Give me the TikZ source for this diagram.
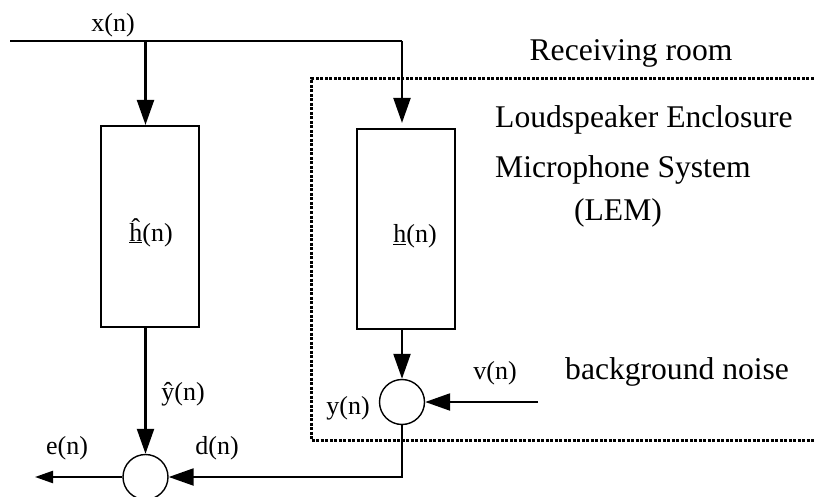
\documentclass[tikz,border=0pt]{standalone}
\usepackage{fontspec}
\setmainfont{Liberation Serif}
\usetikzlibrary{arrows.meta}
\begin{document}
\begin{tikzpicture}[x=1pt,y=-1pt,
  wire/.style={line width=2.3pt},
  arr/.style={wire,-{Triangle[length=25pt,width=17pt]}},
  sarr/.style={wire,-{Triangle[length=18pt,width=12pt]}},
  blk/.style={draw,line width=2.2pt,minimum width=98pt,minimum height=201pt,inner sep=0pt},
  sumc/.style={draw,circle,line width=1.4pt,minimum size=45pt,inner sep=0pt},
  lbl/.style={inner sep=0pt,font=\fontsize{26}{30}\selectfont},
  big/.style={inner sep=0pt,font=\fontsize{31.6}{36}\selectfont},
  room/.style={line width=3pt,dash pattern=on 3pt off 1.5pt}]
\clip (0,0) rectangle (814,497);
\fill[white] (0,0) rectangle (814,497);
\coordinate (xin) at (10,41);
\coordinate (split) at (145.5,41);
\coordinate (corner) at (402,41);
\node[blk] (hh) at (150,226.5) {};
\node[blk, minimum height=200pt] (h) at (406,229) {};
\node[sumc] (s2) at (402,402) {};
\node[sumc] (s1) at (145.5,477) {};
\coordinate (vin) at (538,402);
\coordinate (eout) at (35,477);
\coordinate (turn) at (402,477);
\coordinate (rtr) at (818,79);
\coordinate (rtl) at (311,79);
\coordinate (rbl) at (311,440);
\coordinate (rbr) at (818,440);
\draw[room] (rtr) -- (rtl) -- (rbl) -- (rbr);
\draw[wire] (xin) -- (corner);
\draw[arr] (split) -- (split |- hh.north);
\draw[arr, shorten >=5pt] (corner) -- (corner |- h.north);
\draw[arr] (s2 |- h.south) -- (s2.north);
\draw[arr] (vin) -- (s2.east);
\draw[arr] (s2.south) -- (turn) -- (s1.east);
\draw[arr] (s1 |- hh.south) -- (s1.north);
\draw[sarr] (s1.west) -- (eout);
\node[lbl] (lx) at (113,25) {x(n)};
\node[lbl, anchor=base] (lhh) at (151,241) {\underline{ĥ}(n)};
\node[lbl, anchor=base] (lh) at (415,243) {\underline{h}(n)};
\node[lbl] (lyh) at (183,394) {ŷ(n)};
\node[lbl] (ly) at (348,408) {y(n)};
\node[lbl] (lv) at (495,373) {v(n)};
\node[lbl] (le) at (67,448) {e(n)};
\node[lbl] (ld) at (217,448) {d(n)};
\node[big] (lroom) at (631,53) {Receiving room};
\node[big, anchor=west] (l1) at (495,120) {Loudspeaker Enclosure};
\node[big, anchor=west] (l2) at (495,170) {Microphone System};
\node[big] (l3) at (618,213) {(LEM)};
\node[big, anchor=west] (lbn) at (565,372) {background noise};
\end{tikzpicture}
\end{document}
